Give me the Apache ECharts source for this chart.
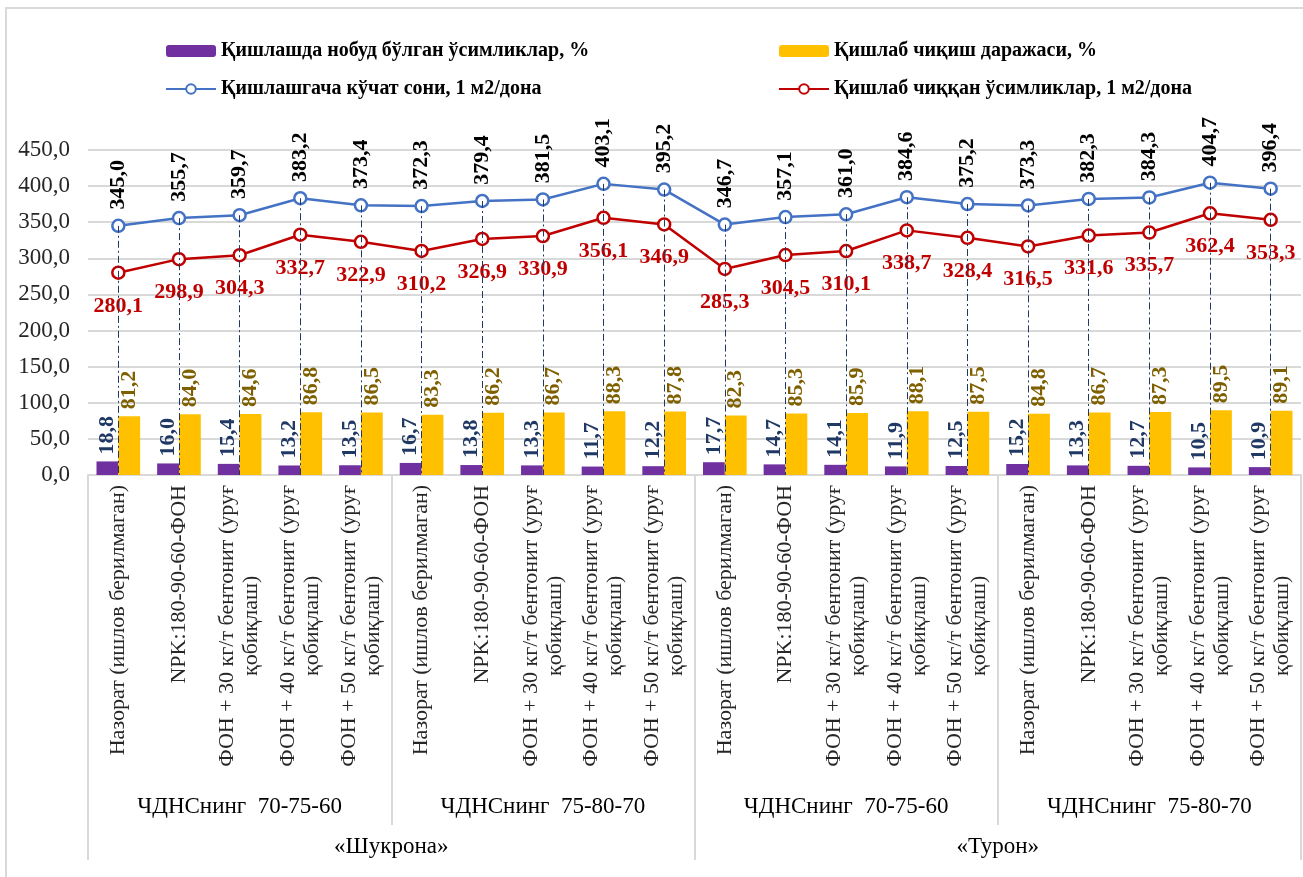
<!DOCTYPE html>
<html>
<head>
<meta charset="UTF-8">
<script src="https://cdn.jsdelivr.net/npm/echarts@6/dist/echarts.min.js"></script>
<style>
  html, body { margin: 0; padding: 0; background: #fff; }
  #chart { width: 1303px; height: 877px; }
</style>
</head>
<body>
<div id="chart"></div>
<script type="text/javascript">
// Categories (treatments, repeated for each group)
const treatments = [
    'Назорат (ишлов берилмаган)',
    'NPK:180-90-60-ФОН',
    'ФОН + 30 кг/т бентонит (уруғ\nқобиқлаш)',
    'ФОН + 40 кг/т бентонит (уруғ\nқобиқлаш)',
    'ФОН + 50 кг/т бентонит (уруғ\nқобиқлаш)'
];
const groups = ['ЧДНСнинг  70-75-60', 'ЧДНСнинг  75-80-70', 'ЧДНСнинг  70-75-60', 'ЧДНСнинг  75-80-70'];
const varieties = ['«Шукрона»', '«Турон»'];

// Series values
const lostPct = [18.8, 16.0, 15.4, 13.2, 13.5, 16.7, 13.8, 13.3, 11.7, 12.2,
                 17.7, 14.7, 14.1, 11.9, 12.5, 15.2, 13.3, 12.7, 10.5, 10.9];
const survivalPct = [81.2, 84.0, 84.6, 86.8, 86.5, 83.3, 86.2, 86.7, 88.3, 87.8,
                     82.3, 85.3, 85.9, 88.1, 87.5, 84.8, 86.7, 87.3, 89.5, 89.1];
const beforeWinter = [345.0, 355.7, 359.7, 383.2, 373.4, 372.3, 379.4, 381.5, 403.1, 395.2,
                      346.7, 357.1, 361.0, 384.6, 375.2, 373.3, 382.3, 384.3, 404.7, 396.4];
const afterWinter = [280.1, 298.9, 304.3, 332.7, 322.9, 310.2, 326.9, 330.9, 356.1, 346.9,
                     285.3, 304.5, 310.1, 338.7, 328.4, 316.5, 331.6, 335.7, 362.4, 353.3];

const names = [
    'Қишлашда нобуд бўлган ўсимликлар, %',
    'Қишлаб чиқиш даражаси, %',
    'Қишлашгача кўчат сони, 1 м2/дона',
    'Қишлаб чиққан ўсимликлар, 1 м2/дона'
];

const categories = [];
for (let g = 0; g < groups.length; g++) {
    treatments.forEach(t => categories.push(t));
}

const serif = '"Liberation Serif", "DejaVu Serif", serif';
const fmt = p => p.value.toFixed(1).replace('.', ',');

// Drop lines from the blue line down to the axis
const dropLines = beforeWinter.map((v, i) => [
    { coord: [i, v] },
    { coord: [i, 0] }
]);

const chart = echarts.init(document.getElementById('chart'));

const legendText = { fontFamily: serif, fontWeight: 'bold', fontSize: 20, color: '#000' };

const option = {
    backgroundColor: '#fff',
    animation: false,
    graphic: [{
        type: 'rect',
        shape: { x: 6, y: 8, width: 1400, height: 1000 },
        style: { fill: 'none', stroke: '#d9d9d9', lineWidth: 2 },
        silent: true
    }],
    legend: [
        {
            left: 160, top: 36, orient: 'vertical', itemGap: 18,
            itemWidth: 50, itemHeight: 12,
            data: [names[0], names[2]],
            textStyle: legendText
        },
        {
            left: 773, top: 36, orient: 'vertical', itemGap: 18,
            itemWidth: 50, itemHeight: 12,
            data: [names[1], names[3]],
            textStyle: legendText
        }
    ],
    grid: { left: 88, right: 2, top: 150, bottom: 402, containLabel: false },
    xAxis: [
        {
            type: 'category',
            data: categories,
            axisLine: { show: true, lineStyle: { color: '#d9d9d9', width: 2 } },
            axisTick: { show: false },
            axisLabel: {
                interval: 0,
                rotate: 90,
                margin: 10,
                formatter: v => v.split('\n').map(s => '{a|' + s + '}').join('\n'),
                rich: {
                    a: { fontFamily: serif, fontSize: 22, color: '#262626', align: 'center', lineHeight: 24 }
                }
            }
        },
        {
            type: 'category',
            data: groups,
            position: 'bottom',
            offset: 0,
            axisLine: { show: false },
            axisTick: { show: true, interval: 0, length: 350, lineStyle: { color: '#d9d9d9', width: 2 } },
            axisLabel: {
                interval: 0, margin: 320,
                fontFamily: serif, fontSize: 23, color: '#000'
            }
        },
        {
            type: 'category',
            data: varieties,
            position: 'bottom',
            offset: 0,
            axisLine: { show: false },
            axisTick: { show: true, interval: 0, length: 385, lineStyle: { color: '#d9d9d9', width: 2 } },
            axisLabel: {
                interval: 0, margin: 360,
                fontFamily: serif, fontSize: 23, color: '#000'
            }
        }
    ],
    yAxis: {
        type: 'value',
        min: 0,
        max: 450,
        interval: 50,
        axisLine: { show: false },
        axisTick: { show: false },
        splitLine: { lineStyle: { color: '#d9d9d9', width: 2 } },
        axisLabel: {
            margin: 18,
            fontFamily: serif, fontSize: 23, color: '#262626',
            formatter: v => v.toFixed(1).replace('.', ',')
        }
    },
    series: [
        {
            name: names[0],
            type: 'bar',
            data: lostPct,
            barGap: '0%',
            barCategoryGap: '28%',
            itemStyle: { color: '#7030a0' },
            label: {
                show: true, position: 'top', rotate: 90, align: 'left', verticalAlign: 'middle',
                distance: 7, formatter: fmt,
                fontFamily: serif, fontWeight: 'bold', fontSize: 22, color: '#203864'
            }
        },
        {
            name: names[1],
            type: 'bar',
            data: survivalPct,
            barGap: '0%',
            barCategoryGap: '28%',
            itemStyle: { color: '#ffc000' },
            label: {
                show: true, position: 'top', rotate: 90, align: 'left', verticalAlign: 'middle',
                distance: 7, formatter: fmt,
                fontFamily: serif, fontWeight: 'bold', fontSize: 22, color: '#7f6000'
            }
        },
        {
            name: names[2],
            type: 'line',
            data: beforeWinter,
            symbol: 'circle',
            symbolSize: 12,
            z: 4,
            lineStyle: { color: '#4472c4', width: 2.5 },
            itemStyle: { color: '#fff', borderColor: '#4472c4', borderWidth: 2.5 },
            label: {
                show: true, position: 'top', rotate: 90, align: 'left', verticalAlign: 'middle',
                distance: 9, formatter: fmt,
                fontFamily: serif, fontWeight: 'bold', fontSize: 22, color: '#000'
            },
            markLine: {
                silent: true,
                symbol: 'none',
                label: { show: false },
                lineStyle: { color: '#203864', width: 1, type: [7, 3, 2, 3] },
                data: dropLines
            }
        },
        {
            name: names[3],
            type: 'line',
            data: afterWinter,
            symbol: 'circle',
            symbolSize: 12,
            z: 4,
            lineStyle: { color: '#c00000', width: 2.5 },
            itemStyle: { color: '#fff', borderColor: '#c00000', borderWidth: 2.5 },
            label: {
                show: true, position: 'bottom', distance: 15, formatter: fmt,
                fontFamily: serif, fontWeight: 'bold', fontSize: 22, color: '#c00000'
            }
        }
    ]
};

chart.setOption(option);
</script>
</body>
</html>
